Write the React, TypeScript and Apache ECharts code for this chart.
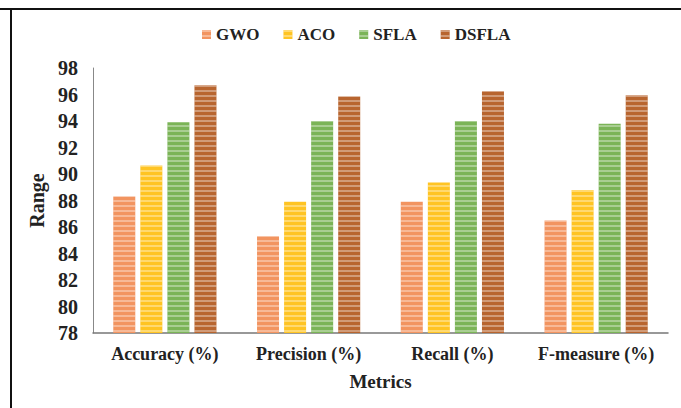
import React, { useEffect, useRef } from "react";
import * as echarts from "echarts";

const categories = ["Accuracy (%)", "Precision (%)", "Recall (%)", "F-measure (%)"];
const seriesNames = ["GWO", "ACO", "SFLA", "DSFLA"];
const gwo = [88.3, 85.3, 87.9, 86.5];
const aco = [90.65, 87.9, 89.35, 88.8];
const sfla = [93.9, 94.0, 94.0, 93.8];
const dsfla = [96.7, 95.85, 96.25, 95.95];
const yTicks = { min: 78, max: 98, interval: 2 };

const colors = ["#F29460", "#FFC423", "#7BB457", "#B8652F"];
const values = [gwo, aco, sfla, dsfla];

export default function App() {
  const ref = useRef<HTMLDivElement>(null);
  useEffect(() => {
    if (!ref.current) return;
    const chart = echarts.init(ref.current, null, { renderer: "svg" });
    const font = "'Liberation Serif', 'Times New Roman', serif";
    chart.setOption({
      animation: false,
      backgroundColor: "#ffffff",
      textStyle: { fontFamily: font },
      graphic: [
        { type: "line", shape: { x1: 0, y1: 9, x2: 681, y2: 9 }, style: { stroke: "#111", lineWidth: 2 } },
        { type: "line", shape: { x1: 11, y1: 8, x2: 11, y2: 408 }, style: { stroke: "#111", lineWidth: 2 } },
      ],
      legend: {
        top: 21,
        left: 197,
        itemWidth: 9,
        itemHeight: 9,
        itemGap: 24,
        icon: "rect",
        textStyle: { fontFamily: font, fontWeight: "bold", fontSize: 17, color: "#222" },
        data: seriesNames,
      },
      grid: { left: 93, right: 13, top: 68, bottom: 75, containLabel: false },
      xAxis: {
        type: "category",
        data: categories,
        name: "Metrics",
        nameLocation: "middle",
        nameGap: 39,
        nameTextStyle: { fontFamily: font, fontWeight: "bold", fontSize: 19, color: "#222" },
        axisLine: { lineStyle: { color: "#777", width: 1.5 } },
        axisTick: { show: false },
        axisLabel: {
          interval: 0,
          hideOverlap: false,
          fontFamily: font,
          fontWeight: "bold",
          fontSize: 18,
          color: "#222",
          margin: 12,
        },
      },
      yAxis: {
        type: "value",
        min: yTicks.min,
        max: yTicks.max,
        interval: yTicks.interval,
        name: "Range",
        nameLocation: "middle",
        nameGap: 41,
        nameTextStyle: { fontFamily: font, fontWeight: "bold", fontSize: 20, color: "#222" },
        axisLine: { show: true, lineStyle: { color: "#888", width: 1 } },
        axisTick: { show: false },
        splitLine: { show: false },
        axisLabel: { fontFamily: font, fontWeight: "bold", fontSize: 20, color: "#222", margin: 15 },
      },
      series: seriesNames.map((name, i) => ({
        name,
        type: "bar",
        data: values[i],
        barWidth: 22,
        barGap: "23%",
        itemStyle: {
          color: colors[i],
          decal: {
            symbol: "rect",
            symbolSize: 1,
            dashArrayX: [1, 0],
            dashArrayY: [2, 3],
            rotation: 0,
            color: "rgba(255,255,255,0.35)",
          },
        },
      })),
    });
    return () => chart.dispose();
  }, []);
  return (
    <div
      ref={ref}
      style={{ position: "fixed", left: 0, top: 0, width: 681, height: 408 }}
    />
  );
}
